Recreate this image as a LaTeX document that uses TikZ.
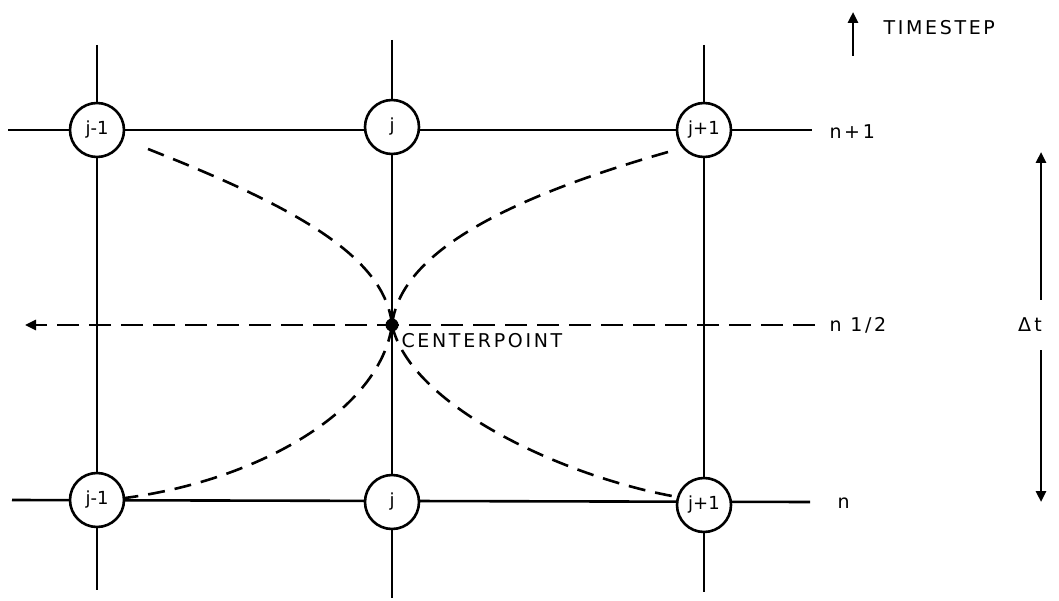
\documentclass[tikz,border=0pt]{standalone}
\usepackage{fontspec}
\setmainfont{DejaVu Sans}
\usetikzlibrary{arrows.meta}
\begin{document}
\begin{tikzpicture}[x=1pt,y=-1pt,
  grid/.style={line width=2.6pt},
  dashline/.style={line width=2.6pt,dash pattern=on 17pt off 10pt},
  pt/.style={circle,draw,line width=2.6pt,minimum size=54pt,inner sep=0pt,fill=white,font=\fontsize{18}{18}\selectfont},
  lab/.style={font=\fontsize{19}{19}\selectfont\addfontfeatures{LetterSpace=14},anchor=west},
  tipend/.style={-{Triangle[length=11pt,width=10pt]}}]
\useasboundingbox (0,0) rectangle (1059,601);
% free ends
\coordinate (L1top) at (97,45);
\coordinate (L1bot) at (97,590);
\coordinate (L2top) at (392,40);
\coordinate (L2bot) at (392,598);
\coordinate (L3top) at (704,45);
\coordinate (L3bot) at (704,592);
\coordinate (R1l) at (8,130);
\coordinate (R1r) at (812,130);
\coordinate (R0l) at (12,500);
\coordinate (R0r) at (810,502);
\coordinate (Hl) at (25,325);
\coordinate (Hr) at (815,325);
% vertical grid lines (behind nodes)
\draw[grid] (L1top) -- (L1bot);
\draw[grid] (L2top) -- (L2bot);
\draw[grid] (L3top) -- (L3bot);
% centre point
\node[circle,fill=black,inner sep=0pt,minimum size=13pt] (c) at (392,325) {};
% half-timestep dashed line
\draw[dashline,dash pattern=on 22pt off 10pt,tipend] (Hr) -- (Hl);
% horizontal grid lines
\draw[grid] (R1l) -- (R1r);
\draw[grid] (R0l) -- (R0r);
% dashed curves
\draw[dashline] (148,149) .. controls (290,205) and (385,255) .. (c.center);
\draw[dashline] (668,152) .. controls (500,200) and (400,255) .. (c.center);
\draw[dashline] (c.center) .. controls (380,410) and (260,480) .. (125,498);
\draw[dashline] (c.center) .. controls (410,405) and (560,475) .. (672,496);
% nodes
\node[pt] (a1) at (97,130) {j-1};
\node[pt] (b1) at (392,127) {j};
\node[pt] (c1) at (704,130) {j+1};
\node[pt] (a0) at (97,500) {j-1};
\node[pt] (b0) at (392,502) {j};
\node[pt] (c0) at (704,505) {j+1};
% row labels
\node[lab] (n1) at (826,132) {n+1};
\node[lab] (nh) at (826,325) {n  1/2};
\node[lab] (n0) at (834,503) {n};
\node[lab,anchor=north west] (cp) at (398,330) {CENTERPOINT};
% delta t
\node[font=\fontsize{19}{19}\selectfont] (dt) at (1030,325) {Δ\,t};
\coordinate (dtt) at (1041,152);
\coordinate (dtb) at (1041,502);
\draw[line width=2.6pt,tipend] (1041,300) -- (dtt);
\draw[line width=2.6pt,tipend] (1041,350) -- (dtb);
% timestep
\coordinate (tsb) at (853,56);
\coordinate (tst) at (853,12);
\draw[line width=2.6pt,tipend] (tsb) -- (tst);
\node[lab] (ts) at (880,28) {TIMESTEP};
\end{tikzpicture}
\end{document}
